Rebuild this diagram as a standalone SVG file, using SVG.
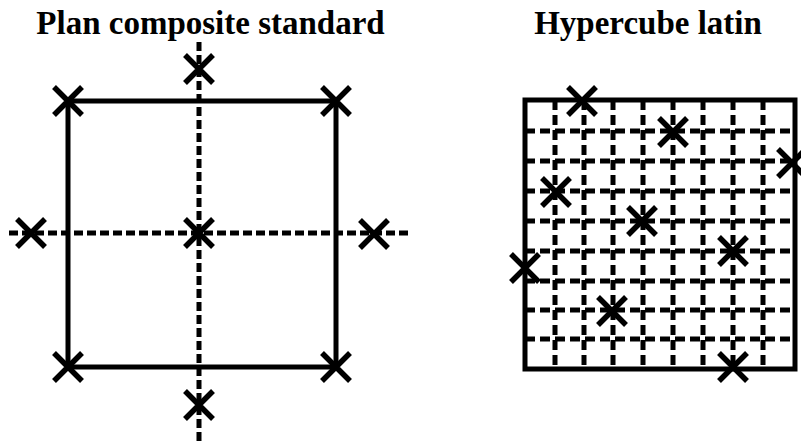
<svg xmlns="http://www.w3.org/2000/svg" width="801" height="442" viewBox="0 0 801 442">
<defs>
<style>
.t{font-family:"Liberation Serif","Times New Roman",serif;font-weight:bold;font-size:33px;fill:#000;text-anchor:middle}
.solid{fill:none;stroke:#000;stroke-width:5;stroke-linecap:square}
.dash{fill:none;stroke:#000;stroke-width:5;stroke-dasharray:9,4}
.gdash{fill:none;stroke:#000;stroke-width:5;stroke-dasharray:10,5}
.x{fill:none;stroke:#000;stroke-width:5.5}
</style>
<path id="cross" class="x" d="M-14,-14L14,14M-14,14L14,-14"/>
</defs>
<rect width="801" height="442" fill="#fff"/>
<text class="t" x="210.5" y="34">Plan composite standard</text>
<text class="t" x="648" y="34">Hypercube latin</text>
<g id="connectors">
<line class="dash" x1="199" y1="42" x2="199" y2="442"/>
<line class="dash" x1="9" y1="233" x2="412" y2="233"/>
<rect class="solid" x="68" y="101" width="268" height="266"/>
<g id="grid">
<line class="gdash" x1="555" y1="100" x2="555" y2="369"/>
<line class="gdash" x1="584" y1="100" x2="584" y2="369"/>
<line class="gdash" x1="613" y1="100" x2="613" y2="369"/>
<line class="gdash" x1="643" y1="100" x2="643" y2="369"/>
<line class="gdash" x1="673" y1="100" x2="673" y2="369"/>
<line class="gdash" x1="703" y1="100" x2="703" y2="369"/>
<line class="gdash" x1="733" y1="100" x2="733" y2="369"/>
<line class="gdash" x1="763" y1="100" x2="763" y2="369"/>
<line class="gdash" x1="525" y1="131" x2="795" y2="131"/>
<line class="gdash" x1="525" y1="161" x2="795" y2="161"/>
<line class="gdash" x1="525" y1="191" x2="795" y2="191"/>
<line class="gdash" x1="525" y1="221" x2="795" y2="221"/>
<line class="gdash" x1="525" y1="251" x2="795" y2="251"/>
<line class="gdash" x1="525" y1="281" x2="795" y2="281"/>
<line class="gdash" x1="525" y1="310" x2="795" y2="310"/>
<line class="gdash" x1="525" y1="339" x2="795" y2="339"/>
</g>
<rect class="solid" x="525" y="100" width="270" height="269"/>
</g>
<g id="ccd-points">
<use id="p1" href="#cross" x="68" y="101"/>
<use id="p2" href="#cross" x="336" y="101"/>
<use id="p3" href="#cross" x="68" y="367"/>
<use id="p4" href="#cross" x="336" y="367"/>
<use id="p5" href="#cross" x="199" y="69"/>
<use id="p6" href="#cross" x="199" y="405"/>
<use id="p7" href="#cross" x="31" y="233"/>
<use id="p8" href="#cross" x="374" y="234"/>
<use id="p9" href="#cross" x="199" y="233"/>
</g>
<g id="lhs-points">
<use id="q1" href="#cross" x="582" y="101"/>
<use id="q2" href="#cross" x="673" y="132"/>
<use id="q3" href="#cross" x="792" y="163"/>
<use id="q4" href="#cross" x="556" y="192"/>
<use id="q5" href="#cross" x="642" y="221"/>
<use id="q6" href="#cross" x="733" y="251"/>
<use id="q7" href="#cross" x="525" y="268"/>
<use id="q8" href="#cross" x="612" y="311"/>
<use id="q9" href="#cross" x="733" y="367"/>
</g>
</svg>
